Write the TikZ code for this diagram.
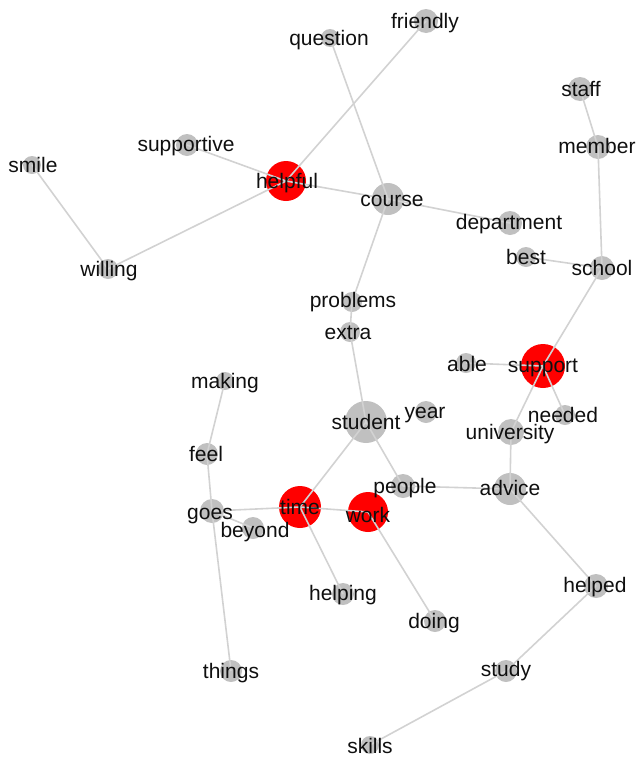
\documentclass[tikz,border=0pt]{standalone}
\usepackage{fontspec}
\setmainfont{Liberation Sans}
\definecolor{nodegray}{RGB}{192,192,192}
\definecolor{edgegray}{RGB}{210,210,210}
\definecolor{nodered}{RGB}{255,0,0}
\definecolor{labelcol}{RGB}{15,15,15}
\begin{document}
\begin{tikzpicture}[x=1pt,y=-1pt,
  vert/.style={circle,inner sep=0pt,draw=none},
  lab/.style={inner sep=0pt,text=labelcol,font=\fontsize{21}{24}\selectfont,text height=0.72em,text depth=0.2em,anchor=center,yshift=-5pt},
  edge/.style={draw=edgegray,line width=1.6pt}]
\useasboundingbox (0,0) rectangle (640,758);
% vertices: name/x/y/diameter/colour
\foreach \n/\x/\y/\d/\c in {
  friendly/426/21/24/nodegray,
  question/330/38/18/nodegray,
  staff/580/89/24/nodegray,
  member/598/147/24/nodegray,
  supportive/187/145/22/nodegray,
  smile/32/165/18/nodegray,
  helpful/286/181/40/nodered,
  course/388/199/32/nodegray,
  department/510/223/24/nodegray,
  best/526/257/20/nodegray,
  school/602/268/24/nodegray,
  willing/108/269/20/nodegray,
  problems/352/302/20/nodegray,
  extra/350/332/20/nodegray,
  able/466/363/20/nodegray,
  support/543/366/44/nodered,
  making/225/381/18/nodegray,
  year/426/412/22/nodegray,
  student/366/422/42/nodegray,
  needed/565/415/20/nodegray,
  university/511/432/26/nodegray,
  feel/207/454/22/nodegray,
  people/403/486/24/nodegray,
  advice/510/489/32/nodegray,
  goes/212/511/24/nodegray,
  time/300/507/42/nodered,
  work/368/512/40/nodered,
  beyond/253/528/22/nodegray,
  helping/343/594/22/nodegray,
  doing/435/621/22/nodegray,
  helped/596/586/24/nodegray,
  things/231/671/22/nodegray,
  study/506/671/22/nodegray,
  skills/370/745/18/nodegray}
  {\node[vert,fill=\c,minimum size=\d pt] (\n) at (\x,\y) {};}
% edges
\foreach \a/\b in {question/course, friendly/helpful, supportive/helpful,
  helpful/course, helpful/willing, smile/willing, course/department,
  course/problems, problems/extra, staff/member, member/school, best/school,
  school/support, able/support, support/needed, support/university,
  university/advice, extra/student, student/time, student/people,
  people/advice, advice/helped, helped/study, study/skills, goes/time,
  goes/beyond, time/work, time/helping, work/doing, making/feel,
  feel/goes, goes/things}
  {\draw[edge] (\a.center) -- (\b.center);}
% labels: name/x/y
\foreach \n/\x/\y in {
  friendly/425/21, question/329/38, staff/581/89, member/597/146,
  supportive/186/144, smile/33/165, helpful/287/181, course/392/199,
  department/509/222, best/526/257, school/602/268, willing/109/269,
  problems/353/300, extra/348/332, able/467/364, support/543/365,
  making/225/381, year/425/411, student/366/422, needed/563/415,
  university/510/432, feel/206/454, people/405/486, advice/510/488,
  goes/210/512, time/300/507, work/368/515, beyond/255/530,
  helping/343/593, doing/434/621, helped/595/585, things/231/671,
  study/506/669, skills/370/746}
  {\node[lab] (l-\n) at (\x,\y) {\n};}
\end{tikzpicture}
\end{document}
